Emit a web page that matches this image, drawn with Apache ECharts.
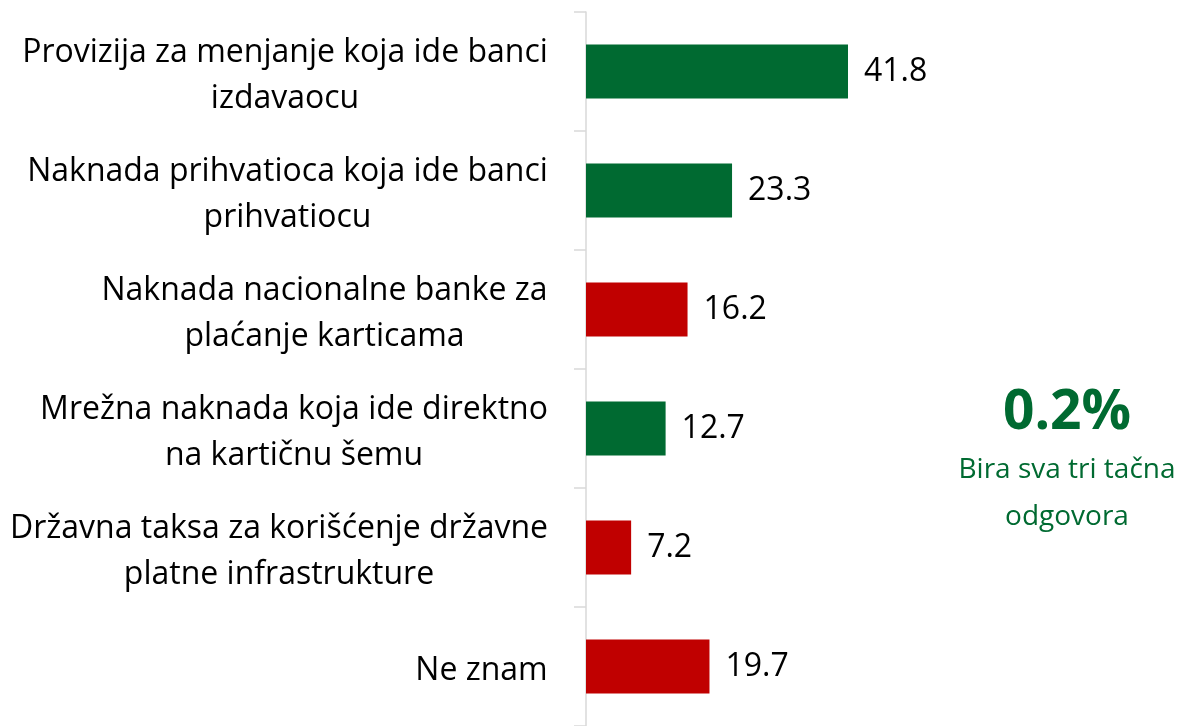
<!DOCTYPE html>
<html>
<head>
<meta charset="utf-8">
<script src="https://cdn.jsdelivr.net/npm/echarts@6/dist/echarts.min.js"></script>
<style>
  html, body { margin: 0; padding: 0; background: #fff; }
  #chart { width: 1196px; height: 726px; }
</style>
</head>
<body>
<div id="chart"></div>
<script>
var categories = [
    'Provizija za menjanje koja ide banci\nizdavaocu',
    'Naknada prihvatioca koja ide banci\nprihvatiocu',
    'Naknada nacionalne banke za\nplaćanje karticama',
    'Mrežna naknada koja ide direktno\nna kartičnu šemu',
    'Državna taksa za korišćenje državne\nplatne infrastrukture',
    'Ne znam'
];
var values = [41.8, 23.3, 16.2, 12.7, 7.2, 19.7];
var correct = [true, true, false, true, false, false];
var noteValue = '0.2%';
var noteLines = ['Bira sva tri tačna', 'odgovora'];

var GREEN = '#006a31';
var RED = '#c00000';
var FONT = '"Open Sans"';
var LABEL_SIZE = 32;

// measure longest line of each label so lines can be centred inside a right-aligned block
var ctx = document.createElement('canvas').getContext('2d');
ctx.font = LABEL_SIZE + 'px ' + FONT;
var rich = {};
categories.forEach(function (c, i) {
    var w = 0;
    c.split('\n').forEach(function (l) {
        w = Math.max(w, ctx.measureText(l).width);
    });
    rich['c' + i] = {
        width: Math.ceil(w) + 2, height: 46, lineHeight: 46, align: 'center',
        fontSize: LABEL_SIZE, fontFamily: FONT, color: '#000'
    };
});

var chart = echarts.init(document.getElementById('chart'));
chart.setOption({
    animation: false,
    grid: { left: 586, top: 12, width: 313.4, height: 717 },
    xAxis: {
        type: 'value', min: 0, max: 50,
        show: false
    },
    yAxis: {
        type: 'category',
        inverse: true,
        data: categories,
        axisLine: { lineStyle: { color: '#d9d9d9', width: 1.5 } },
        axisTick: { show: true, length: 12, lineStyle: { color: '#d9d9d9', width: 1.5 } },
        axisLabel: {
            margin: 37,
            align: 'right',
            lineHeight: 46,
            padding: [8, 0, 0, 0],
            formatter: function (v, i) {
                return v.split('\n').map(function (l) { return '{c' + i + '|' + l + '}'; }).join('\n');
            },
            rich: rich
        }
    },
    series: [{
        type: 'bar',
        barWidth: 54,
        data: values.map(function (v, i) {
            return { value: v, itemStyle: { color: correct[i] ? GREEN : RED } };
        }),
        label: {
            show: true,
            position: 'right',
            distance: 16,
            fontFamily: FONT,
            fontSize: LABEL_SIZE,
            color: '#000',
            formatter: function (p) { return p.value.toFixed(1); }
        }
    }],
    graphic: [{
        type: 'text',
        x: 1067, y: 413,
        style: {
            text: noteValue,
            textAlign: 'center', textVerticalAlign: 'middle',
            fontFamily: FONT, fontWeight: 'bold', fontSize: 55,
            fill: GREEN
        }
    }, {
        type: 'text',
        x: 1067, y: 470,
        style: {
            text: noteLines[0],
            textAlign: 'center', textVerticalAlign: 'middle',
            fontFamily: FONT, fontSize: 28,
            fill: GREEN
        }
    }, {
        type: 'text',
        x: 1067, y: 517,
        style: {
            text: noteLines[1],
            textAlign: 'center', textVerticalAlign: 'middle',
            fontFamily: FONT, fontSize: 28,
            fill: GREEN
        }
    }]
});
</script>
</body>
</html>
